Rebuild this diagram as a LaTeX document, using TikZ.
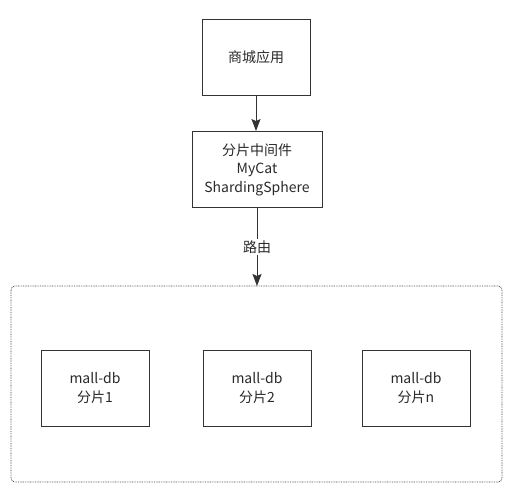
\documentclass[tikz,border=0pt]{standalone}
\usepackage{fontspec}
\setmainfont{Noto Sans CJK SC}
\usetikzlibrary{arrows.meta}
\definecolor{linegray}{HTML}{333333}
\definecolor{textgray}{HTML}{2A2A2A}
\tikzset{
	box/.style={draw=linegray, line width=0.9pt, align=center, text=textgray,
		font=\fontsize{14}{18.5}\selectfont, inner sep=0pt},
	link/.style={draw=linegray, line width=0.9pt, -{Stealth[length=12pt,width=9pt,inset=2pt]}}
}
\begin{document}
\begin{tikzpicture}[x=1pt, y=-1pt]
		%%%%% START %%%%%
		\useasboundingbox[fill=white] (0, 0) rectangle (511, 500);
		
		\node[box, minimum width=108pt, minimum height=76pt] (app) at (256, 57) {商城应用};
		\node[box, minimum width=130pt, minimum height=76pt] (mid) at (257, 169.5) {分片中间件\\MyCat\\ShardingSphere};
		
		\draw[draw=linegray!90, line width=0.8pt, dash pattern=on 0.8pt off 0.9pt, rounded corners=4pt] (11, 286) rectangle (502, 482);
		\coordinate (pool) at (256, 286);
		
		\node[box, minimum width=108pt, minimum height=76pt] (shard1) at (95, 388) {mall-db\\分片1};
		\node[box, minimum width=108pt, minimum height=76pt] (shard2) at (257, 388) {mall-db\\分片2};
		\node[box, minimum width=108pt, minimum height=76pt] (shard3) at (416, 388) {mall-db\\分片n};
		
		\draw[link] (app.south) -- (app.south |- mid.north);
		\draw[link] (mid.south) -- (mid.south |- pool)
			node[pos=0.5, fill=white, text=textgray, inner sep=2pt, font=\fontsize{14}{16}\selectfont] (route) {路由};
		%%%%% END %%%%%
	\end{tikzpicture}
\end{document}
